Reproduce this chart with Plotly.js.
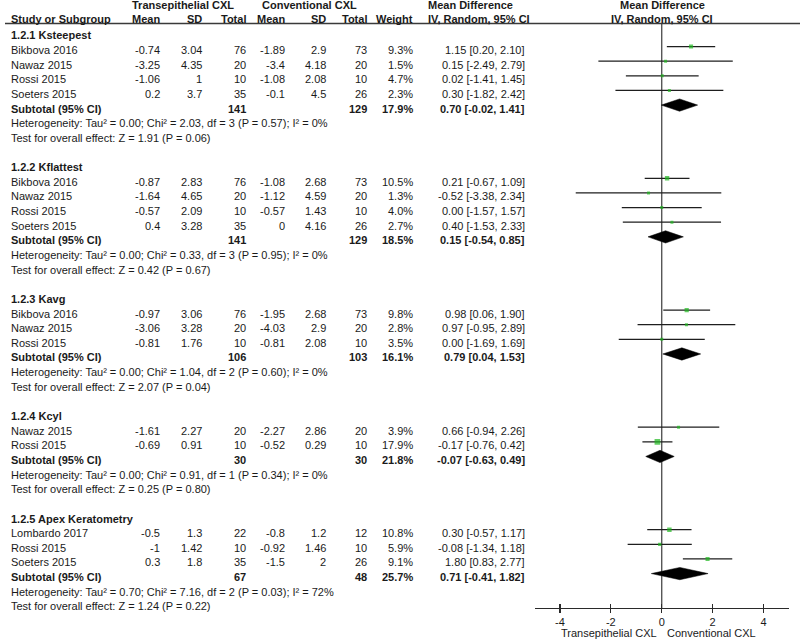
<!DOCTYPE html>
<html>
<head>
<meta charset="utf-8">
<script src="https://cdn.plot.ly/plotly-3.0.1.min.js"></script>
<style>html,body{margin:0;padding:0;background:#fff;}#chart{width:800px;height:640px;}</style>
</head>
<body>
<div id="chart"></div>
<script>
// ---------- data ----------
const groupNames = ["1.2.1 Ksteepest", "1.2.2 Kflattest", "1.2.3 Kavg", "1.2.4 Kcyl", "1.2.5 Apex Keratometry"];
const studyGroup = [0,0,0,0, 1,1,1,1, 2,2,2, 3,3, 4,4,4];
const studyNames = ["Bikbova 2016","Nawaz 2015","Rossi 2015","Soeters 2015",
                    "Bikbova 2016","Nawaz 2015","Rossi 2015","Soeters 2015",
                    "Bikbova 2016","Nawaz 2015","Rossi 2015",
                    "Nawaz 2015","Rossi 2015",
                    "Lombardo 2017","Rossi 2015","Soeters 2015"];
const transMean = [-0.74,-3.25,-1.06,0.2, -0.87,-1.64,-0.57,0.4, -0.97,-3.06,-0.81, -1.61,-0.69, -0.5,-1,0.3];
const transSD   = [3.04,4.35,1,3.7, 2.83,4.65,2.09,3.28, 3.06,3.28,1.76, 2.27,0.91, 1.3,1.42,1.8];
const transN    = [76,20,10,35, 76,20,10,35, 76,20,10, 20,10, 22,10,35];
const convMean  = [-1.89,-3.4,-1.08,-0.1, -1.08,-1.12,-0.57,0, -1.95,-4.03,-0.81, -2.27,-0.52, -0.8,-0.92,-1.5];
const convSD    = [2.9,4.18,2.08,4.5, 2.68,4.59,1.43,4.16, 2.68,2.9,2.08, 2.86,0.29, 1.2,1.46,2];
const convN     = [73,20,10,26, 73,20,10,26, 73,20,10, 20,10, 12,10,26];
const weightPct = [9.3,1.5,4.7,2.3, 10.5,1.3,4.0,2.7, 9.8,2.8,3.5, 3.9,17.9, 10.8,5.9,9.1];
const mdEst     = [1.15,0.15,0.02,0.30, 0.21,-0.52,0.00,0.40, 0.98,0.97,0.00, 0.66,-0.17, 0.30,-0.08,1.80];
const mdLow     = [0.20,-2.49,-1.41,-1.82, -0.67,-3.38,-1.57,-1.53, 0.06,-0.95,-1.69, -0.94,-0.76, -0.57,-1.34,0.83];
const mdHigh    = [2.10,2.79,1.45,2.42, 1.09,2.34,1.57,2.33, 1.90,2.89,1.69, 2.26,0.42, 1.17,1.18,2.77];

const subTransN = [141,141,106,30,67];
const subConvN  = [129,129,103,30,48];
const subWeight = [17.9,18.5,16.1,21.8,25.7];
const subEst    = [0.70,0.15,0.79,-0.07,0.71];
const subLow    = [-0.02,-0.54,0.04,-0.63,-0.41];
const subHigh   = [1.41,0.85,1.53,0.49,1.82];
const hetTau2   = [0.00,0.00,0.00,0.00,0.70];
const hetChi2   = [2.03,0.33,1.04,0.91,7.16];
const hetDf     = [3,3,2,1,2];
const hetP      = [0.57,0.95,0.60,0.34,0.03];
const hetI2     = [0,0,0,0,72];
const zVal      = [1.91,0.42,2.07,0.25,1.24];
const zP        = [0.06,0.67,0.04,0.80,0.22];

const tickVals = [-4,-2,0,2,4];
const tickText = ["-4","-2","0","2","4"];
const axisLeftLabel = "Transepithelial CXL";
const axisRightLabel = "Conventional CXL";

// ---------- layout constants ----------
const W = 800, H = 640;
const FONT = "Liberation Sans, Arial, sans-serif";
const TXT = "#1a1a1a";
const FS = 11;
const rowPx = 14.64;          // row spacing in px
const graphRow0 = 31.9;       // px of row 0 graphics
const textShift = -3.5;       // text sits a little lower than graphics
const axisPx = 608, topPx = 23.5;

// ---------- rows ----------
const headRow = [], studyRow = [], subRow = [], hetRow = [], testRow = [];
let r = 0;
for (let g = 0; g < groupNames.length; g++) {
  headRow[g] = r++;
  for (let s = 0; s < studyNames.length; s++) if (studyGroup[s] === g) studyRow[s] = r++;
  subRow[g] = r++; hetRow[g] = r++; testRow[g] = r++;
  r++;
}

const ann = [];
function T(xpx, row, text, anchor, bold) {
  ann.push({xref:"paper", yref:"y", x:xpx/W, y:row, yshift:textShift, text: bold ? "<b>"+text+"</b>" : text,
    showarrow:false, xanchor:anchor, yanchor:"middle", font:{family:FONT,size:FS,color:TXT}, borderpad:0});
}
function H1(xpx, ypx, text, anchor) {
  ann.push({xref:"paper", yref:"paper", x:xpx/W, y:1-ypx/H, text:"<b>"+text+"</b>",
    showarrow:false, xanchor:anchor, yanchor:"middle", font:{family:FONT,size:FS,color:TXT}, borderpad:0});
}
// column right edges (px)
const cName = 10, cTM = 160.5, cTSD = 203, cTN = 247, cCM = 286, cCSD = 327, cCN = 367.5, cW = 413.5, cCI = 525.5;

// headers
H1(182.5, 5, "Transepithelial CXL", "center");
H1(309, 5, "Conventional CXL", "center");
H1(427, 5, "Mean Difference", "left");
H1(662, 5, "Mean Difference", "center");
H1(cName, 19, "Study or Subgroup", "left");
H1(cTM, 19, "Mean", "right");
H1(cTSD, 19, "SD", "right");
H1(cTN, 19, "Total", "right");
H1(cCM, 19, "Mean", "right");
H1(cCSD, 19, "SD", "right");
H1(cCN, 19, "Total", "right");
H1(cW, 19, "Weight", "right");
H1(427, 19, "IV, Random, 95% CI", "left");
H1(662, 19, "IV, Random, 95% CI", "center");

const ci = (e,l,h) => e.toFixed(2) + " [" + l.toFixed(2) + ", " + h.toFixed(2) + "]";
for (let g = 0; g < groupNames.length; g++) {
  T(cName, headRow[g], groupNames[g], "left", true);
  T(cName, subRow[g], "Subtotal (95% CI)", "left", true);
  T(cTN, subRow[g], String(subTransN[g]), "right", true);
  T(cCN, subRow[g], String(subConvN[g]), "right", true);
  T(cW, subRow[g], subWeight[g].toFixed(1) + "%", "right", true);
  T(cCI, subRow[g], ci(subEst[g], subLow[g], subHigh[g]), "right", true);
  T(cName, hetRow[g], "Heterogeneity: Tau² = " + hetTau2[g].toFixed(2) + "; Chi² = " + hetChi2[g].toFixed(2) +
    ", df = " + hetDf[g] + " (P = " + hetP[g].toFixed(2) + "); I² = " + hetI2[g] + "%", "left", false);
  T(cName, testRow[g], "Test for overall effect: Z = " + zVal[g].toFixed(2) + " (P = " + zP[g].toFixed(2) + ")", "left", false);
}
for (let s = 0; s < studyNames.length; s++) {
  const rr = studyRow[s];
  T(cName, rr, studyNames[s], "left", false);
  T(cTM, rr, String(transMean[s]), "right", false);
  T(cTSD, rr, String(transSD[s]), "right", false);
  T(cTN, rr, String(transN[s]), "right", false);
  T(cCM, rr, String(convMean[s]), "right", false);
  T(cCSD, rr, String(convSD[s]), "right", false);
  T(cCN, rr, String(convN[s]), "right", false);
  T(cW, rr, weightPct[s].toFixed(1) + "%", "right", false);
  T(cCI, rr, ci(mdEst[s], mdLow[s], mdHigh[s]), "right", false);
}
// axis side labels
ann.push({xref:"x", yref:"paper", x:0, y:1-633/H, xshift:-4, text:axisLeftLabel, showarrow:false,
  xanchor:"right", yanchor:"middle", font:{family:FONT,size:FS,color:TXT}, borderpad:0});
ann.push({xref:"x", yref:"paper", x:0, y:1-633/H, xshift:4, text:axisRightLabel, showarrow:false,
  xanchor:"left", yanchor:"middle", font:{family:FONT,size:FS,color:TXT}, borderpad:0});

// ---------- traces ----------
const traces = [];
// CI lines
const lx = [], ly = [];
for (let s = 0; s < studyNames.length; s++) {
  lx.push(mdLow[s], mdHigh[s], null); ly.push(studyRow[s], studyRow[s], null);
}
traces.push({type:"scatter", mode:"lines", x:lx, y:ly, line:{color:"#1e1e1e", width:1.2}, hoverinfo:"skip", showlegend:false});
// squares
traces.push({type:"scatter", mode:"markers", x:mdEst, y:studyRow,
  marker:{symbol:"square", color:"#1fb81f", size:weightPct.map(w => Math.max(3, 1.35*Math.sqrt(w))), line:{width:0}},
  hoverinfo:"skip", showlegend:false});
// diamonds
const dh = 0.42;
for (let g = 0; g < groupNames.length; g++) {
  const y0 = subRow[g];
  traces.push({type:"scatter", mode:"lines", fill:"toself", fillcolor:"#000",
    x:[subLow[g], subEst[g], subHigh[g], subEst[g], subLow[g]],
    y:[y0, y0-dh, y0, y0+dh, y0], line:{color:"#000", width:0.5}, hoverinfo:"skip", showlegend:false});
}
// dummy trace for overlay axis (inside ticks)
traces.push({type:"scatter", mode:"markers", x:[0], y:[0], xaxis:"x2", marker:{opacity:0}, hoverinfo:"skip", showlegend:false});

// ---------- y mapping ----------
const yTopVal = (topPx - graphRow0) / rowPx;
const yBotVal = (axisPx - graphRow0) / rowPx;
const yDom = [1 - axisPx/H, 1 - topPx/H];
const xDom = [534.5/W, 789/W];

const layout = {
  width:W, height:H, margin:{l:0,r:0,t:0,b:0}, paper_bgcolor:"#fff", plot_bgcolor:"rgba(0,0,0,0)",
  showlegend:false, font:{family:FONT, size:FS, color:TXT},
  xaxis:{domain:xDom, range:[-5,5], anchor:"y", showgrid:false, zeroline:false, showline:true, linecolor:"#2a2a2a", linewidth:1.2,
    ticks:"outside", ticklen:4, tickwidth:1.2, tickcolor:"#2a2a2a", tickvals:tickVals, ticktext:tickText,
    tickfont:{family:FONT,size:FS,color:TXT}, fixedrange:true},
  xaxis2:{domain:xDom, range:[-5,5], overlaying:"x", anchor:"y", side:"bottom", showgrid:false, zeroline:false, showline:false,
    ticks:"inside", ticklen:4, tickwidth:1.2, tickcolor:"#2a2a2a", tickvals:tickVals, showticklabels:false},
  yaxis:{domain:yDom, range:[yBotVal, yTopVal], visible:false, showgrid:false, zeroline:false, fixedrange:true},
  shapes:[
    {type:"line", xref:"paper", yref:"paper", x0:5/W, x1:1, y0:1-topPx/H, y1:1-topPx/H, line:{color:"#3a3a3a", width:1.5}},
    {type:"line", xref:"x", yref:"paper", x0:0, x1:0, y0:yDom[0], y1:yDom[1], line:{color:"#3a3a3a", width:1.2}, layer:"below"}
  ],
  annotations:ann
};
Plotly.newPlot("chart", traces, layout, {staticPlot:true, displayModeBar:false});
</script>
</body>
</html>
